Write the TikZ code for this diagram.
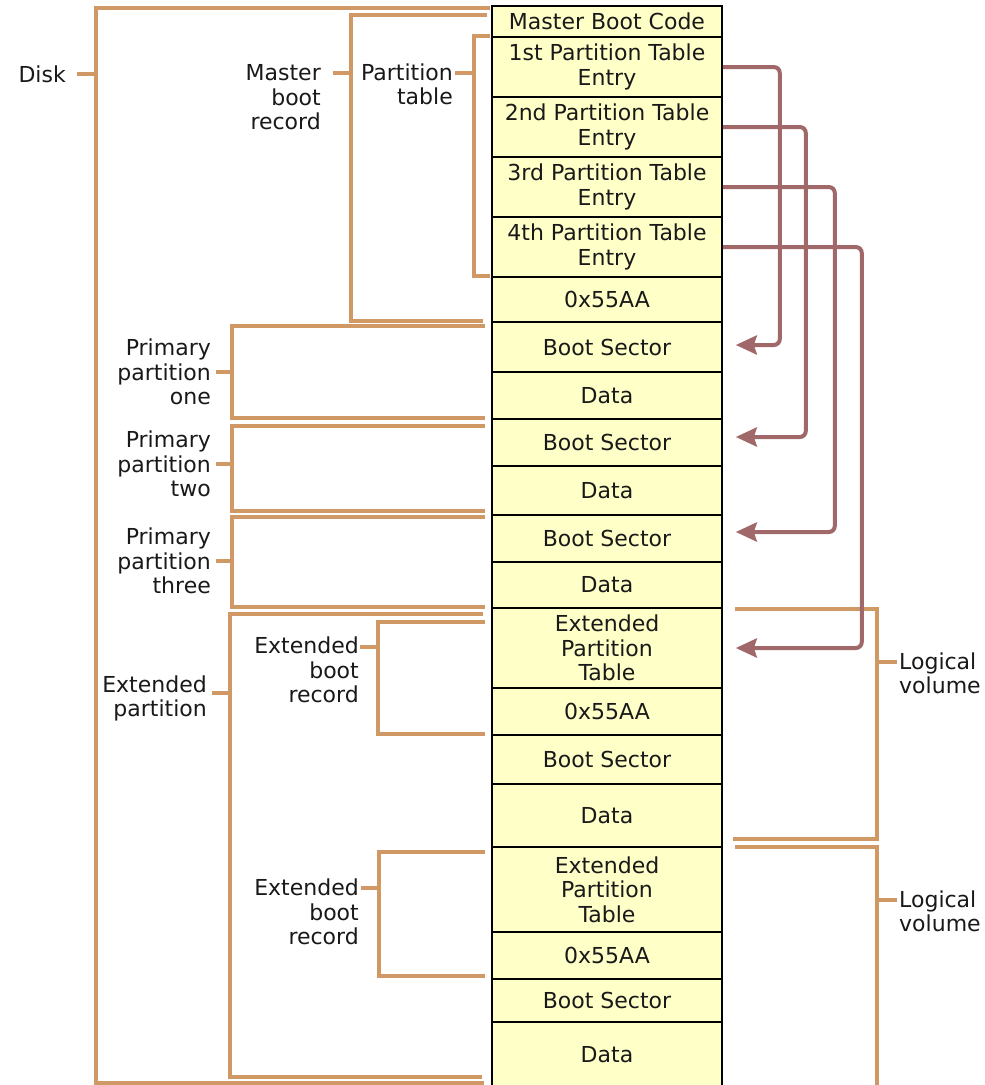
\documentclass[tikz,border=0pt]{standalone}
\usepackage{fontspec}
\setmainfont{DejaVu Sans}
\usetikzlibrary{arrows.meta,calc}
\definecolor{tanc}{RGB}{208,152,100}
\definecolor{arrowc}{RGB}{160,104,104}
\definecolor{cellfill}{RGB}{255,255,200}
\definecolor{txt}{RGB}{25,25,25}
\newcommand\cellfont{\fontsize{22}{24.5}\selectfont}
\begin{document}
\begin{tikzpicture}[x=1pt,y=-1pt,
  cell/.style={draw=black, line width=1.6pt, fill=cellfill, minimum width=230pt, inner sep=0pt, align=center, text=txt, font=\cellfont},
  lbl/.style={inner sep=0pt, text=txt, font=\cellfont},
  br/.style={draw=tanc, line width=4pt},
  arr/.style={draw=arrowc, line width=4pt, rounded corners=6pt, -{Stealth[length=21pt,width=19pt,inset=3pt]}}]
\useasboundingbox[fill=white] (0,0) rectangle (985,1085);

% brackets
\draw[br] (490,8) -- (96,8) -- (96,1083) -- (484,1083);
\draw[br] (77,74) -- (96,74);
\draw[br] (487,15) -- (351,15) -- (351,321) -- (483,321);
\draw[br] (333,73) -- (351,73);
\draw[br] (490,36) -- (474,36) -- (474,276) -- (490,276);
\draw[br] (455,73) -- (474,73);
\draw[br] (485,326) -- (232,326) -- (232,418) -- (485,418);
\draw[br] (216,372) -- (232,372);
\draw[br] (485,426) -- (232,426) -- (232,511) -- (485,511);
\draw[br] (216,464) -- (232,464);
\draw[br] (485,517) -- (232,517) -- (232,607) -- (485,607);
\draw[br] (216,561) -- (232,561);
\draw[br] (483,614) -- (230,614) -- (230,1077) -- (482,1077);
\draw[br] (212,693) -- (230,693);
\draw[br] (485,622) -- (378,622) -- (378,734) -- (485,734);
\draw[br] (360,647) -- (378,647);
\draw[br] (485,852) -- (379,852) -- (379,976) -- (485,976);
\draw[br] (361,888) -- (379,888);
\draw[br] (735,609) -- (877,609) -- (877,839) -- (733,839);
\draw[br] (877,662) -- (897,662);
\draw[br] (735,847) -- (877,847) -- (877,1092);
\draw[br] (877,900) -- (897,900);

% cells
\node[cell, minimum height=31pt] (mbc) at (607,21.5) {Master Boot Code};
\node[cell, minimum height=60pt] (e1) at (607,67) {1st Partition Table\\Entry};
\node[cell, minimum height=60pt] (e2) at (607,127) {2nd Partition Table\\Entry};
\node[cell, minimum height=60pt] (e3) at (607,187) {3rd Partition Table\\Entry};
\node[cell, minimum height=60pt] (e4) at (607,247) {4th Partition Table\\Entry};
\node[cell, minimum height=45pt] (sig0) at (607,299.5) {0x55AA};
\node[cell, minimum height=50pt] (bs1) at (607,347) {Boot Sector};
\node[cell, minimum height=47pt] (d1) at (607,395.5) {Data};
\node[cell, minimum height=47pt] (bs2) at (607,442.5) {Boot Sector};
\node[cell, minimum height=49pt] (d2) at (607,490.5) {Data};
\node[cell, minimum height=47pt] (bs3) at (607,538.5) {Boot Sector};
\node[cell, minimum height=46pt] (d3) at (607,585) {Data};
\node[cell, minimum height=80pt] (ept1) at (607,648) {Extended\\Partition\\Table};
\node[cell, minimum height=47pt] (sig1) at (607,711.5) {0x55AA};
\node[cell, minimum height=49pt] (bs4) at (607,759.5) {Boot Sector};
\node[cell, minimum height=63pt] (d4) at (607,815.5) {Data};
\node[cell, minimum height=85pt] (ept2) at (607,889.5) {Extended\\Partition\\Table};
\node[cell, minimum height=47pt] (sig2) at (607,955.5) {0x55AA};
\node[cell, minimum height=43pt] (bs5) at (607,1000.5) {Boot Sector};
\node[cell, minimum height=66pt] (d5) at (607,1055) {Data};

% labels
\node[lbl, anchor=east, align=right] (disk) at (66,74) {Disk};
\node[lbl, anchor=east, align=right] (mbr) at (321,97.5) {Master\\boot\\record};
\node[lbl, anchor=east, align=right] (pt) at (453,84.5) {Partition\\table};
\node[lbl, anchor=east, align=right] (pp1) at (211,372) {Primary\\partition\\one};
\node[lbl, anchor=east, align=right] (pp2) at (211,464) {Primary\\partition\\two};
\node[lbl, anchor=east, align=right] (pp3) at (211,561) {Primary\\partition\\three};
\node[lbl, anchor=east, align=right] (ep) at (207,698.5) {Extended\\partition};
\node[lbl, anchor=east, align=right] (ebr1) at (359,670) {Extended\\boot\\record};
\node[lbl, anchor=east, align=right] (ebr2) at (359,912) {Extended\\boot\\record};
\node[lbl, anchor=west, align=left] (lv1) at (899,673.5) {Logical\\volume};
\node[lbl, anchor=west, align=left] (lv2) at (899,911.5) {Logical\\volume};

% arrows
\draw[arr] (e1.east) -| ($(bs1.east)+(57,-2)$) -- ($(bs1.east)+(13,-2)$);
\draw[arr] (e2.east) -| ($(bs2.east)+(83,-5.5)$) -- ($(bs2.east)+(13,-5.5)$);
\draw[arr] (e3.east) -| ($(bs3.east)+(112,-6.5)$) -- ($(bs3.east)+(13,-6.5)$);
\draw[arr] (e4.east) -| ($(ept1.east)+(139,0)$) -- ($(ept1.east)+(13,0)$);
\end{tikzpicture}
\end{document}
